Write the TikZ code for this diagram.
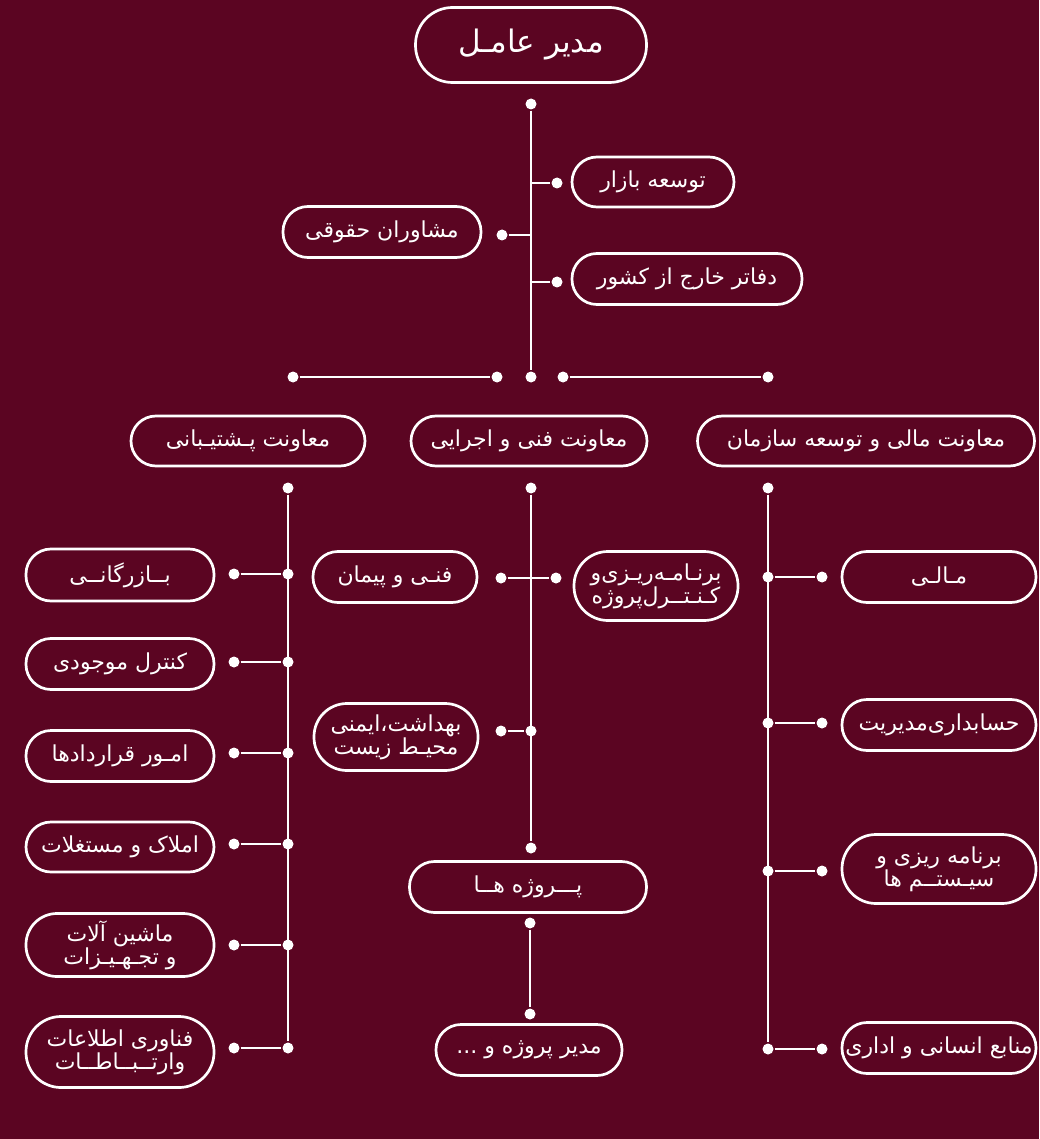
\documentclass[tikz,border=0pt]{standalone}
\usepackage{fontspec}
\newfontfamily\farsi[Script=Arabic]{DejaVu Sans}
\TeXXeTstate=1
\newcommand{\fatxt}[1]{\beginR #1\endR}
\definecolor{maroon}{HTML}{5B0522}

\begin{document}
\begin{tikzpicture}[
            x = 1pt, y = -1pt, % pixel grid, y going down
            color = white, % lines, dots and text
            line width = 2.3pt % line style
        ]

        \tikzstyle{box}=[
            rectangle,
            rounded corners = 25pt,
            draw = white,
            line width = 2.7pt,
            text = white,
            font = \farsi\fontsize{22}{23}\selectfont,
            align = center,
            inner sep = 1pt,
            minimum height = 51pt
        ]
        \tikzstyle{tall}=[rounded corners = 33pt]
        \tikzstyle{dot}=[
            circle,
            fill = white,
            inner sep = 0pt,
            minimum size = 11pt
        ]

        \fill[maroon] (0,0) rectangle (1039,1139);

        % top level
        \node[box, rounded corners = 37pt, minimum width = 231pt, minimum height = 75pt,
            font = \farsi\fontsize{31}{33}\selectfont] (ceo) at (531,45) {\fatxt{مدیر عامـل}};
        \node[box, minimum width = 162pt, minimum height = 50pt] (mkt) at (653,182) {\fatxt{توسعه بازار}};
        \node[box, minimum width = 198pt] (law) at (382,232) {\fatxt{مشاوران حقوقی}};
        \node[box, minimum width = 230pt] (abr) at (687,279) {\fatxt{دفاتر خارج از کشور}};

        \node[dot] (t0) at (531,104) {};
        \node[dot] (t1) at (531,377) {};
        \coordinate (t2) at (531,183);
        \coordinate (t3) at (531,235);
        \coordinate (t4) at (531,282);
        \node[dot] (mkt-d) at (557,183) {};
        \node[dot] (law-d) at (502,235) {};
        \node[dot] (abr-d) at (557,282) {};

        \draw (t0) -- (t1);
        \draw (t2) -- (mkt-d);
        \draw (law-d) -- (t3);
        \draw (t4) -- (abr-d);

        \node[dot] (h1) at (293,377) {};
        \node[dot] (h2) at (497,377) {};
        \node[dot] (h3) at (563,377) {};
        \node[dot] (h4) at (768,377) {};
        \draw (h1) -- (h2);
        \draw (h3) -- (h4);

        % deputies
        \node[box, minimum width = 234pt, minimum height = 50pt] (vp1) at (248,441) {\fatxt{معاونت پـشتیـبانی}};
        \node[box, minimum width = 236pt, minimum height = 50pt] (vp2) at (529,441) {\fatxt{معاونت فنی و اجرایی}};
        \node[box, minimum width = 337pt, minimum height = 50pt] (vp3) at (866,441) {\fatxt{معاونت مالی و توسعه سازمان}};

        % support
        \node[box, minimum width = 188pt, minimum height = 52pt] (a1) at (120,575) {\fatxt{بــازرگانــی}};
        \node[box, minimum width = 188pt] (a2) at (120,664) {\fatxt{کنترل موجودی}};
        \node[box, minimum width = 188pt] (a3) at (120,756) {\fatxt{امـور قراردادها}};
        \node[box, minimum width = 188pt, minimum height = 50pt] (a4) at (120,847) {\fatxt{املاک و مستغلات}};
        \node[box, tall, rounded corners = 31pt, minimum width = 188pt, minimum height = 63pt] (a5) at (120,945) {\fatxt{ماشین آلات}\\\fatxt{و تجـهـیـزات}};
        \node[box, tall, rounded corners = 35pt, minimum width = 188pt, minimum height = 71pt] (a6) at (120,1052) {\fatxt{فناوری اطلاعات}\\\fatxt{وارتــبــاطــات}};

        \node[dot] (l0) at (288,488) {};
        \node[dot] (l1) at (288,574) {};
        \node[dot] (l2) at (288,662) {};
        \node[dot] (l3) at (288,753) {};
        \node[dot] (l4) at (288,844) {};
        \node[dot] (l5) at (288,945) {};
        \node[dot] (l6) at (288,1048) {};
        \node[dot] (a1-d) at (234,574) {};
        \node[dot] (a2-d) at (234,662) {};
        \node[dot] (a3-d) at (234,753) {};
        \node[dot] (a4-d) at (234,844) {};
        \node[dot] (a5-d) at (234,945) {};
        \node[dot] (a6-d) at (234,1048) {};

        \draw (l0) -- (l6);
        \draw (a1-d) -- (l1);
        \draw (a2-d) -- (l2);
        \draw (a3-d) -- (l3);
        \draw (a4-d) -- (l4);
        \draw (a5-d) -- (l5);
        \draw (a6-d) -- (l6);

        % technical
        \node[box, minimum width = 164pt] (b1) at (395,577) {\fatxt{فنـی و پیمان}};
        \node[box, tall, rounded corners = 34pt, minimum width = 164pt, minimum height = 69pt] (b2) at (656,586) {\fatxt{برنـامـه‌ریـزی‌و}\\\fatxt{کـنـتــرل‌پروژه}};
        \node[box, tall, minimum width = 164pt, minimum height = 67pt] (b3) at (396,737) {\fatxt{بهداشت،ایمنی}\\\fatxt{محیـط زیست}};
        \node[box, minimum width = 237pt] (b4) at (528,887) {\fatxt{پـــروژه هــا}};
        \node[box, minimum width = 186pt] (b5) at (529,1050) {\fatxt{مدیر پروژه و ...}};

        \node[dot] (m0) at (531,488) {};
        \node[dot] (m2) at (531,731) {};
        \node[dot] (m3) at (531,848) {};
        \node[dot] (b1-d) at (501,578) {};
        \node[dot] (b2-d) at (556,578) {};
        \node[dot] (b3-d) at (501,731) {};
        \node[dot] (p0) at (530,923) {};
        \node[dot] (p1) at (530,1014) {};

        \draw (m0) -- (m3);
        \draw (b1-d) -- (b2-d);
        \draw (b3-d) -- (m2);
        \draw (p0) -- (p1);

        % finance
        \node[box, minimum width = 194pt] (c1) at (939,577) {\fatxt{مـالـی}};
        \node[box, minimum width = 194pt] (c2) at (939,725) {\fatxt{حسابداری‌مدیریت}};
        \node[box, tall, rounded corners = 34pt, minimum width = 194pt, minimum height = 69pt] (c3) at (939,869) {\fatxt{برنامه ریزی و}\\\fatxt{سیـستــم ها}};
        \node[box, minimum width = 194pt] (c4) at (939,1048) {\fatxt{منابع انسانی و اداری}};

        \node[dot] (k0) at (768,488) {};
        \node[dot] (k1) at (768,577) {};
        \node[dot] (k2) at (768,723) {};
        \node[dot] (k3) at (768,871) {};
        \node[dot] (k4) at (768,1049) {};
        \node[dot] (c1-d) at (822,577) {};
        \node[dot] (c2-d) at (822,723) {};
        \node[dot] (c3-d) at (822,871) {};
        \node[dot] (c4-d) at (822,1049) {};

        \draw (k0) -- (k4);
        \draw (k1) -- (c1-d);
        \draw (k2) -- (c2-d);
        \draw (k3) -- (c3-d);
        \draw (k4) -- (c4-d);
    \end{tikzpicture}
\end{document}
